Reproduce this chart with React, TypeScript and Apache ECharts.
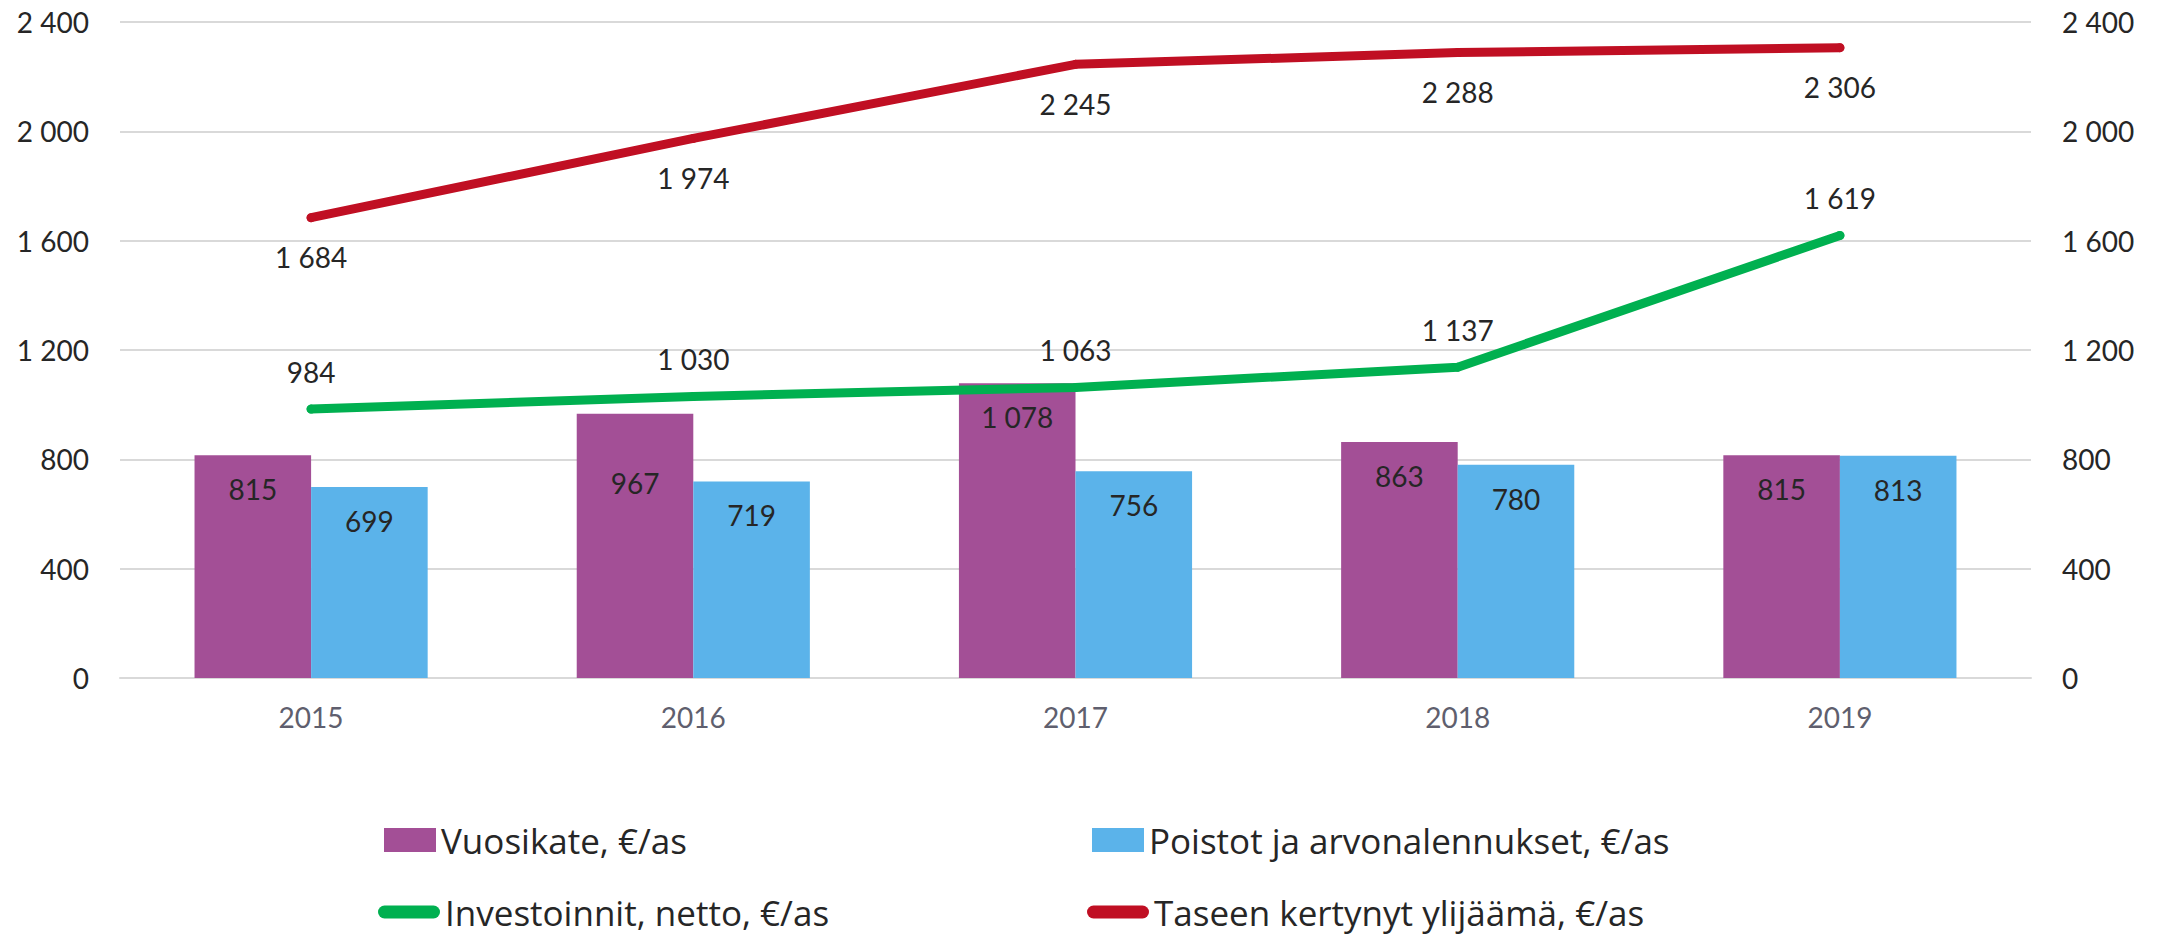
import React, { useEffect, useRef } from "react";
import * as echarts from "echarts";

const years = ["2015", "2016", "2017", "2018", "2019"];
const vuosikate = [815, 967, 1078, 863, 815];
const poistot = [699, 719, 756, 780, 813];
const investoinnit = [984, 1030, 1063, 1137, 1619];
const ylijaama = [1684, 1974, 2245, 2288, 2306];
const names = [
  "Vuosikate, €/as",
  "Poistot ja arvonalennukset, €/as",
  "Investoinnit, netto, €/as",
  "Taseen kertynyt ylijäämä, €/as",
];

const FONT = "Lato, 'Open Sans', sans-serif";
const LEGEND_FONT = "'Open Sans', 'Noto Sans', sans-serif";
const fmt = (v: number) => String(v).replace(/\B(?=(\d{3})+(?!\d))/g, " ");
const pill = "path://M6.5,0 H55.5 A6.5,6.5 0 0 1 55.5,13 H6.5 A6.5,6.5 0 0 1 6.5,0 Z";

export default function App() {
  const ref = useRef<HTMLDivElement>(null);
  useEffect(() => {
    const chart = echarts.init(ref.current!, null, { renderer: "svg" });
    const legendBase = {
      orient: "horizontal" as const,
      textStyle: { fontFamily: LEGEND_FONT, fontSize: 35, color: "#262626", lineHeight: 36 },
      selectedMode: false,
      padding: 0,
    };
    chart.setOption({
      animation: false,
      backgroundColor: "#ffffff",
      grid: { left: 120, right: 127, top: 22, bottom: 256, containLabel: false },
      legend: [
        { ...legendBase, left: 384, top: 822, itemWidth: 52, itemHeight: 24, icon: "rect", data: [names[0]] },
        { ...legendBase, left: 1092, top: 822, itemWidth: 52, itemHeight: 24, icon: "rect", data: [names[1]] },
        { ...legendBase, left: 378, top: 894, itemWidth: 62, itemHeight: 13, icon: pill, data: [names[2]] },
        { ...legendBase, left: 1087, top: 894, itemWidth: 62, itemHeight: 13, icon: pill, data: [names[3]] },
      ],
      xAxis: {
        type: "category",
        data: years,
        axisLine: { show: true, lineStyle: { color: "#d9d9d9", width: 2 } },
        axisTick: { show: false },
        axisLabel: { color: "#5f5f6e", fontFamily: FONT, fontSize: 28, margin: 25 },
      },
      yAxis: [
        {
          type: "value",
          min: 0,
          max: 2400,
          interval: 400,
          axisLine: { show: false },
          axisTick: { show: false },
          splitLine: { lineStyle: { color: "#d9d9d9", width: 2 } },
          axisLabel: { color: "#262626", fontFamily: FONT, fontSize: 28, margin: 31, formatter: (v: number) => fmt(v) },
        },
        {
          type: "value",
          min: 0,
          max: 2400,
          interval: 400,
          position: "right",
          axisLine: { show: false },
          axisTick: { show: false },
          splitLine: { show: false },
          axisLabel: { color: "#262626", fontFamily: FONT, fontSize: 28, margin: 31, formatter: (v: number) => fmt(v) },
        },
      ],
      series: [
        {
          name: names[0],
          type: "bar",
          data: vuosikate.map((v, i) => (i === 1 ? { value: v, label: { offset: [0, 35] } } : v)),
          barGap: "0%",
          barCategoryGap: "39%",
          itemStyle: { color: "#A34F96" },
          label: {
            show: true,
            position: "insideTop",
            distance: 20,
            color: "#262626",
            fontFamily: FONT,
            fontSize: 28,
            formatter: (p: any) => fmt(p.value),
          },
        },
        {
          name: names[1],
          type: "bar",
          data: poistot,
          itemStyle: { color: "#5BB3EA" },
          label: {
            show: true,
            position: "insideTop",
            distance: 20,
            color: "#262626",
            fontFamily: FONT,
            fontSize: 28,
            formatter: (p: any) => fmt(p.value),
          },
        },
        {
          name: names[2],
          type: "line",
          yAxisIndex: 1,
          data: investoinnit,
          symbol: "circle",
          symbolSize: 9,
          itemStyle: { color: "#00B050" },
          lineStyle: { color: "#00B050", width: 9, cap: "round", join: "round" },
          label: {
            show: true,
            position: "top",
            distance: 19,
            color: "#262626",
            fontFamily: FONT,
            fontSize: 28,
            formatter: (p: any) => fmt(p.value),
          },
        },
        {
          name: names[3],
          type: "line",
          yAxisIndex: 1,
          data: ylijaama,
          symbol: "circle",
          symbolSize: 9,
          itemStyle: { color: "#C00F23" },
          lineStyle: { color: "#C00F23", width: 9, cap: "round", join: "round" },
          label: {
            show: true,
            position: "bottom",
            distance: 21,
            color: "#262626",
            fontFamily: FONT,
            fontSize: 28,
            formatter: (p: any) => fmt(p.value),
          },
        },
      ],
    });
    return () => chart.dispose();
  }, []);
  return (
    <div
      ref={ref}
      style={{ position: "fixed", left: 0, top: 0, width: 2158, height: 934, background: "#fff" }}
    />
  );
}
